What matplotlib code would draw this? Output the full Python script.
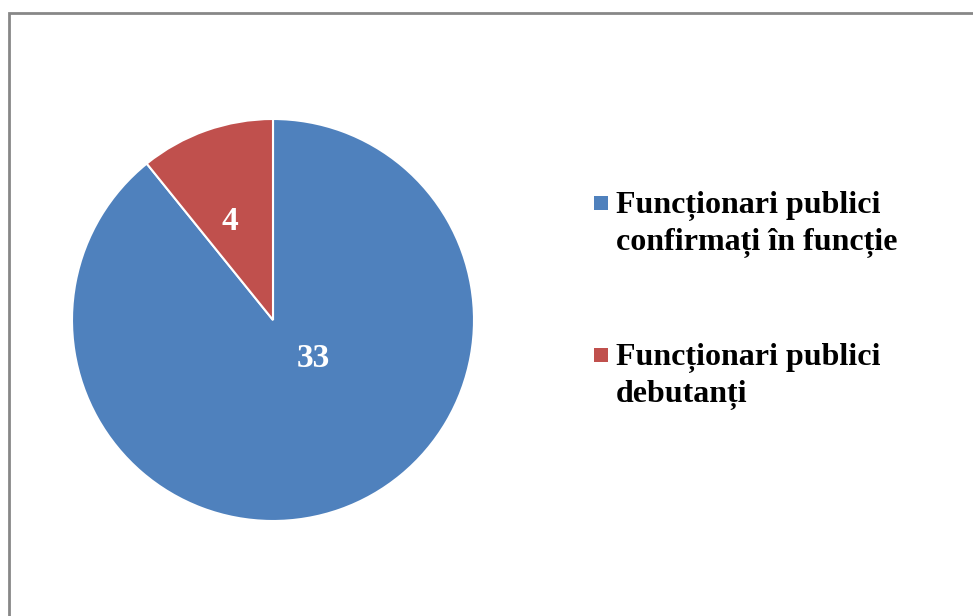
import matplotlib.pyplot as plt
from matplotlib.patches import Rectangle

labels = ['Funcționari publici\nconfirmați în funcție', 'Funcționari publici\ndebutanți']
values = [33, 4]
colors = ['#4F81BD', '#C0504D']
# label anchor offsets inside the pie (Excel places them a bit oddly)
label_pos = [(0.20, -0.19), (-0.215, 0.49)]

W, H = 973, 616
fig = plt.figure(figsize=(W / 100, H / 100), dpi=100)

# outer chart frame, runs off the right and bottom edges
fig.patches.append(Rectangle((9 / W, -0.05), 1.1, 1 - 13 / H + 0.05, transform=fig.transFigure,
                             fill=False, edgecolor='#878787', linewidth=2))

cx, cy, r = 273, H - 320, 201
ax = fig.add_axes([(cx - r) / W, (cy - r) / H, 2 * r / W, 2 * r / H])
wedges, _ = ax.pie(values, colors=colors, startangle=90, counterclock=False,
                   wedgeprops=dict(edgecolor='white', linewidth=1.5))
ax.set_xlim(-1, 1)
ax.set_ylim(-1, 1)
ax.set_aspect('equal')
ax.axis('off')

for v, (x, y) in zip(values, label_pos):
    ax.text(x, y, str(v), ha='center', va='center', color='white',
            fontsize=24, fontweight='bold', family='Liberation Serif')

# legend drawn by hand so the swatch sits next to the first line
ly = [203, 355]
for lab, col, y in zip(labels, colors, ly):
    fig.patches.append(Rectangle((594 / W, (H - y - 7) / H), 14 / W, 14 / H,
                                 transform=fig.transFigure, facecolor=col, edgecolor='none'))
    fig.text(616 / W, (H - y + 12) / H, lab, ha='left', va='top', fontsize=23,
             fontweight='bold', family='Liberation Serif', linespacing=1.3)

fig.savefig('out.png', dpi=100)
